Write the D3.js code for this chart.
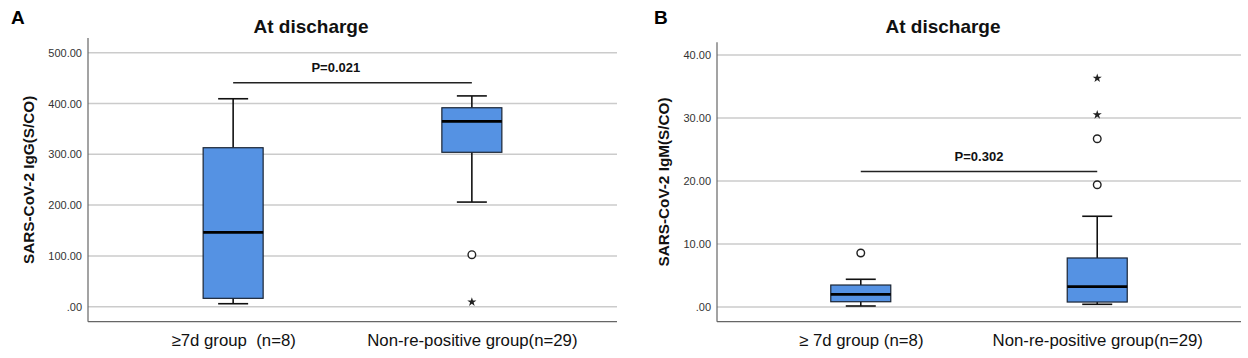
<!DOCTYPE html>
<html>
<head>
<meta charset="utf-8">
<script src="https://cdn.jsdelivr.net/npm/d3@7"></script>
<style>
  body { margin: 0; background: #fff; }
  text { font-family: Arial, "Liberation Sans", sans-serif; }
</style>
</head>
<body>
<div id="chart"></div>
<script>
// groups (x categories)
const groupsA = ["≥7d group  (n=8)", "Non-re-positive group(n=29)"];
const groupsB = ["≥ 7d group (n=8)", "Non-re-positive group(n=29)"];

// IgG box stats, one per group
const igGLow = [5.9, 206];
const igGQ1 = [16.5, 304];
const igGMedian = [146.4, 365];
const igGQ3 = [313, 391.7];
const igGHigh = [409.4, 415];
const igGOutliers = [
  {g: 1, v: 102.4, type: "circle"},
  {g: 1, v: 9.3, type: "star"}
];
const igGTicks = [0, 100, 200, 300, 400, 500];

// IgM box stats
const igMLow = [0.16, 0.43];
const igMQ1 = [0.84, 0.79];
const igMMedian = [2.0, 3.22];
const igMQ3 = [3.49, 7.78];
const igMHigh = [4.4, 14.4];
const igMOutliers = [
  {g: 0, v: 8.57, type: "circle"},
  {g: 1, v: 19.4, type: "circle"},
  {g: 1, v: 26.7, type: "circle"},
  {g: 1, v: 30.5, type: "star"},
  {g: 1, v: 36.3, type: "star"}
];
const igMTicks = [0, 10, 20, 30, 40];

// p-value brackets
const pLabels = ["P=0.021", "P=0.302"];
const pLevels = [441, 21.5];
const pLabelPos = [0.43, 0.5]; // fraction of the way between the two groups

const svg = d3.select("#chart")
    .append("svg")
    .attr("width", 1248)
    .attr("height", 358);

const fmt = v => v === 0 ? ".00" : d3.format(".2f")(v);

function drawPanel(cfg) {
    const g = svg.append("g");

    const x = d3.scalePoint()
        .domain(d3.range(cfg.groups.length))
        .range([cfg.left, cfg.right])
        .padding(0.608);

    const y = d3.scaleLinear()
        .domain(cfg.domain)
        .range([cfg.bottom, cfg.top]);

    // gridlines
    g.selectAll(".grid")
        .data(cfg.ticks)
        .enter()
        .append("line")
        .attr("x1", cfg.left)
        .attr("x2", cfg.right)
        .attr("y1", d => y(d))
        .attr("y2", d => y(d))
        .attr("stroke", "#cbcbcb")
        .attr("stroke-width", 1.5);

    // y axis
    const yAxis = d3.axisLeft(y)
        .tickValues(cfg.ticks)
        .tickSize(0)
        .tickPadding(6)
        .tickFormat(fmt);
    const ya = g.append("g")
        .attr("transform", `translate(${cfg.left},0)`)
        .call(yAxis);
    ya.select(".domain").remove();
    ya.selectAll("text")
        .attr("font-size", 11)
        .attr("fill", "#333")
        .style("font-family", "Arial, 'Liberation Sans', sans-serif");

    // axis frame
    g.append("line")
        .attr("x1", cfg.left).attr("x2", cfg.left)
        .attr("y1", cfg.top).attr("y2", cfg.bottom)
        .attr("stroke", "#666").attr("stroke-width", 1.2);
    g.append("line")
        .attr("x1", cfg.left).attr("x2", cfg.right)
        .attr("y1", cfg.bottom).attr("y2", cfg.bottom)
        .attr("stroke", "#666").attr("stroke-width", 1.2);

    // x labels
    const xAxis = d3.axisBottom(x)
        .tickSize(0)
        .tickPadding(12)
        .tickFormat(i => cfg.groups[i]);
    const xa = g.append("g")
        .attr("transform", `translate(0,${cfg.bottom})`)
        .call(xAxis);
    xa.select(".domain").remove();
    xa.selectAll("text")
        .attr("font-size", 16.8)
        .attr("fill", "#111")
        .style("white-space", "pre")
        .style("font-family", "Arial, 'Liberation Sans', sans-serif");

    const boxW = 60, capW = 30;
    const stats = cfg.groups.map((d, i) => ({
        i: i, low: cfg.low[i], q1: cfg.q1[i], med: cfg.median[i], q3: cfg.q3[i], high: cfg.high[i]
    }));

    const box = g.selectAll(".box")
        .data(stats)
        .enter()
        .append("g");

    // whiskers
    box.append("line")
        .attr("x1", d => x(d.i)).attr("x2", d => x(d.i))
        .attr("y1", d => y(d.q3)).attr("y2", d => y(d.high))
        .attr("stroke", "#111").attr("stroke-width", 1.6);
    box.append("line")
        .attr("x1", d => x(d.i)).attr("x2", d => x(d.i))
        .attr("y1", d => y(d.q1)).attr("y2", d => y(d.low))
        .attr("stroke", "#111").attr("stroke-width", 1.6);
    box.append("line")
        .attr("x1", d => x(d.i) - capW / 2).attr("x2", d => x(d.i) + capW / 2)
        .attr("y1", d => y(d.high)).attr("y2", d => y(d.high))
        .attr("stroke", "#111").attr("stroke-width", 1.6);
    box.append("line")
        .attr("x1", d => x(d.i) - capW / 2).attr("x2", d => x(d.i) + capW / 2)
        .attr("y1", d => y(d.low)).attr("y2", d => y(d.low))
        .attr("stroke", "#111").attr("stroke-width", 1.6);

    // box
    box.append("rect")
        .attr("x", d => x(d.i) - boxW / 2)
        .attr("width", boxW)
        .attr("y", d => y(d.q3))
        .attr("height", d => y(d.q1) - y(d.q3))
        .attr("fill", "#5592e3")
        .attr("stroke", "#1a2433")
        .attr("stroke-width", 1.2);

    // median
    box.append("line")
        .attr("x1", d => x(d.i) - boxW / 2).attr("x2", d => x(d.i) + boxW / 2)
        .attr("y1", d => y(d.med)).attr("y2", d => y(d.med))
        .attr("stroke", "#000").attr("stroke-width", 2.8);

    // outliers
    g.selectAll(".outC")
        .data(cfg.outliers.filter(d => d.type === "circle"))
        .enter()
        .append("circle")
        .attr("cx", d => x(d.g))
        .attr("cy", d => y(d.v))
        .attr("r", 3.8)
        .attr("fill", "#fff")
        .attr("stroke", "#222")
        .attr("stroke-width", 1.4);

    g.selectAll(".outS")
        .data(cfg.outliers.filter(d => d.type === "star"))
        .enter()
        .append("path")
        .attr("d", d3.symbol(d3.symbolStar, 26))
        .attr("transform", d => `translate(${x(d.g)},${y(d.v)})`)
        .attr("fill", "#222");

    // p-value bracket
    g.append("line")
        .attr("x1", x(0)).attr("x2", x(1))
        .attr("y1", y(cfg.pLevel)).attr("y2", y(cfg.pLevel))
        .attr("stroke", "#222").attr("stroke-width", 1.4);
    g.append("text")
        .attr("x", x(0) + (x(1) - x(0)) * cfg.pPos)
        .attr("y", y(cfg.pLevel) - 11)
        .attr("text-anchor", "middle")
        .attr("font-size", 13)
        .attr("font-weight", "bold")
        .attr("fill", "#111")
        .text(cfg.pLabel);

    // title
    g.append("text")
        .attr("x", cfg.titleX)
        .attr("y", 33)
        .attr("text-anchor", "middle")
        .attr("font-size", 19)
        .attr("font-weight", "bold")
        .attr("fill", "#111")
        .text("At discharge");

    // panel letter
    g.append("text")
        .attr("x", cfg.letterX)
        .attr("y", 24)
        .attr("font-size", 19)
        .attr("font-weight", "bold")
        .attr("fill", "#000")
        .text(cfg.letter);

    // y title
    g.append("text")
        .attr("transform", `translate(${cfg.yTitleX},${(cfg.top + cfg.bottom) / 2}) rotate(-90)`)
        .attr("text-anchor", "middle")
        .attr("font-size", 15.3)
        .attr("font-weight", "bold")
        .attr("fill", "#111")
        .text(cfg.yTitle);
}

drawPanel({
    groups: groupsA,
    low: igGLow, q1: igGQ1, median: igGMedian, q3: igGQ3, high: igGHigh,
    outliers: igGOutliers, ticks: igGTicks,
    domain: [-29.5, 529],
    left: 88, right: 617, top: 38, bottom: 321.7,
    pLabel: pLabels[0], pLevel: pLevels[0], pPos: pLabelPos[0],
    titleX: 311, letter: "A", letterX: 11,
    yTitle: "SARS-CoV-2 IgG(S/CO)", yTitleX: 34
});

drawPanel({
    groups: groupsB,
    low: igMLow, q1: igMQ1, median: igMMedian, q3: igMQ3, high: igMHigh,
    outliers: igMOutliers, ticks: igMTicks,
    domain: [-2.33, 42.0],
    left: 717, right: 1241, top: 42.3, bottom: 321.7,
    pLabel: pLabels[1], pLevel: pLevels[1], pPos: pLabelPos[1],
    titleX: 943, letter: "B", letterX: 654,
    yTitle: "SARS-CoV-2 IgM(S/CO)", yTitleX: 669
});
</script>
</body>
</html>
